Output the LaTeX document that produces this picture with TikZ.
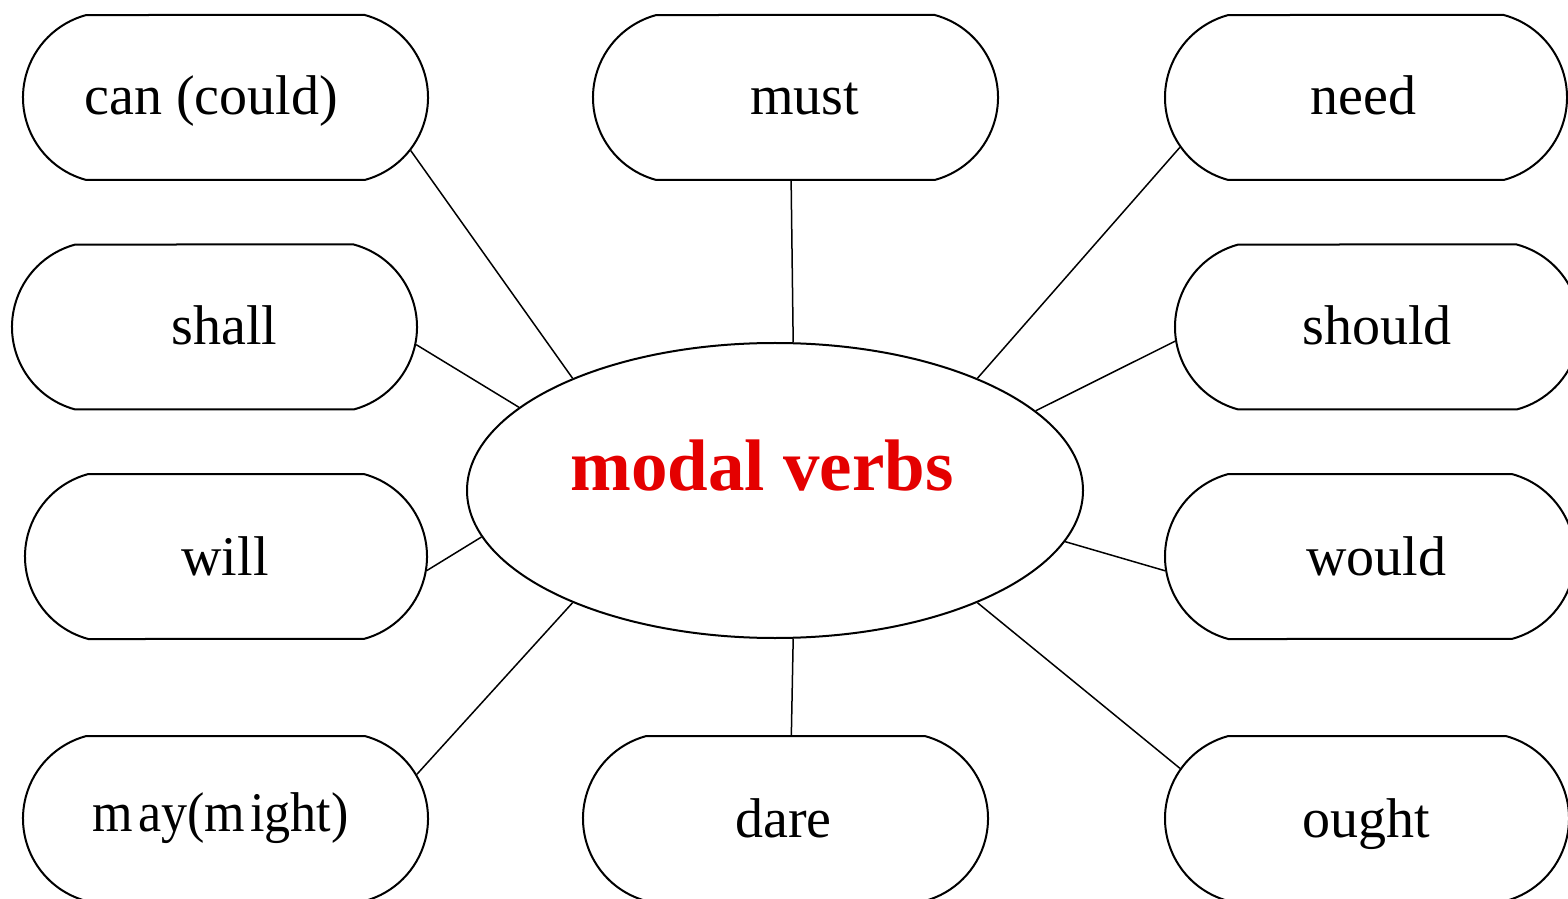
\documentclass[tikz,border=0pt]{standalone}
\usepackage{fontspec}
\setmainfont{Liberation Serif}
\usetikzlibrary{shapes.misc,shapes.geometric}
\definecolor{mvred}{RGB}{228,0,0}
\begin{document}
\begin{tikzpicture}[x=1pt,y=1pt,
  box/.style={rounded rectangle, rounded rectangle arc length=150, draw, line width=2pt,
    minimum width=405pt, minimum height=165pt, inner sep=0pt},
  hub/.style={ellipse, draw, line width=2pt, minimum width=616pt, minimum height=295pt, inner sep=0pt},
  lbl/.style={anchor=base, font=\fontsize{56}{60}\selectfont, inner sep=0pt},
  hublbl/.style={anchor=base, font=\fontsize{73}{80}\selectfont\bfseries, text=mvred, inner sep=0pt},
  link/.style={line width=1.5pt}]
\useasboundingbox[fill=white] (0,0) rectangle (1568,898);
% boxes
\node[box] (can) at (225.5,800.5) {};
\node[box] (must) at (795.5,800.5) {};
\node[box, minimum width=402pt] (need) at (1366,800.5) {};
\node[box] (shall) at (214.5,571) {};
\node[box] (should) at (1377.5,571) {};
\node[box, minimum width=402pt] (will) at (226,341.5) {};
\node[box, minimum width=410pt] (would) at (1370,341.5) {};
\node[box] (may) at (225.5,79.5) {};
\node[box] (dare) at (785.5,79.5) {};
\node[box, minimum width=404pt] (ought) at (1367,79.5) {};
% hub
\node[hub] (mv) at (775,407.5) {};
% labels
\node[lbl] (tcan) at (211,783) {can (could)};
\node[lbl] (tmust) at (804.5,783) {must};
\node[lbl] (tneed) at (1363.5,783) {need};
\node[lbl] (tshall) at (224.5,553) {shall};
\node[lbl] (tshould) at (1377,553) {should};
\node[lbl] (twill) at (225,323) {will};
\node[lbl] (twould) at (1376,323) {would};
\node[lbl] (tmay) at (220.5,67) {\scalebox{0.93}[1]{m\hspace{0.1em}ay(m\hspace{0.1em}ight)}};
\node[lbl] (tdare) at (783.5,61) {dare};
\node[lbl] (tought) at (1366,61) {ought};
\node[hublbl] (tmv) at (762,408) {modal verbs};
% connectors
\draw[link] (can.-16) -- (mv.151);
\draw[link] (must.-93.8) -- (mv.83.4);
\draw[link] (need.-165.3) -- (mv.29);
\draw[link] (shall.-5.1) -- (mv.162.8);
\draw[link] (should.184.6) -- (mv.17.1);
\draw[link] (will.-4.4) -- (mv.189.6);
\draw[link] (would.184.6) -- (mv.-10.1);
\draw[link] (may.13.8) -- (mv.209.5);
\draw[link] (dare.86.9) -- (mv.-83.4);
\draw[link] (ought.165.6) -- (mv.-29.4);
\end{tikzpicture}
\end{document}
